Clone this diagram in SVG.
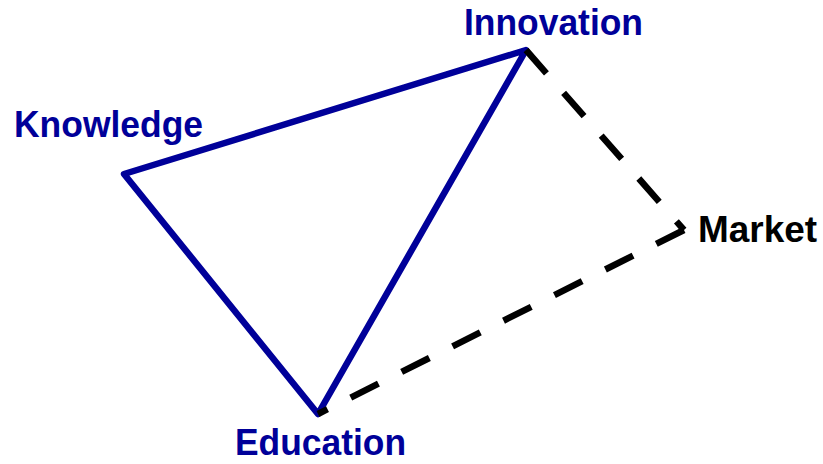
<svg xmlns="http://www.w3.org/2000/svg" width="823" height="464" viewBox="0 0 823 464">
<style>
.lbl{font-family:"Liberation Sans",Arial,sans-serif;font-weight:bold;font-size:37px}
.blue{fill:#000099}
.black{fill:#000000}
.tri{stroke:#000099;stroke-width:6.5;fill:none;stroke-linejoin:round;stroke-linecap:round}
.dash{stroke:#000000;stroke-width:6.5;fill:none;stroke-dasharray:31 26;stroke-linecap:butt}
</style>
<rect width="823" height="464" fill="#ffffff"/>
<g id="connectors">
<polygon class="tri" points="526,50 124,174 318,414"/>
<line class="dash" x1="526" y1="50" x2="684" y2="230"/>
<line class="dash" x1="684" y1="230" x2="318" y2="414"/>
</g>
<g id="node-innovation"><text class="lbl blue" x="464" y="35" textLength="179" lengthAdjust="spacingAndGlyphs">Innovation</text></g>
<g id="node-knowledge"><text class="lbl blue" x="14" y="137" textLength="189" lengthAdjust="spacingAndGlyphs">Knowledge</text></g>
<g id="node-market"><text class="lbl black" x="698" y="242" textLength="119" lengthAdjust="spacingAndGlyphs">Market</text></g>
<g id="node-education"><text class="lbl blue" x="235" y="455" textLength="171" lengthAdjust="spacingAndGlyphs">Education</text></g>
</svg>
